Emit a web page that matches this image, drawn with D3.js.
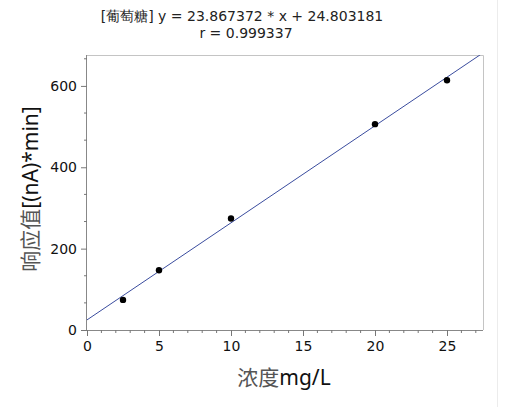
<!DOCTYPE html>
<html><head><meta charset="utf-8">
<script src="https://cdn.jsdelivr.net/npm/d3@7"></script>
<style>body{margin:0;background:#fff}svg{display:block}</style>
</head><body>
<script>
const concentrations = [2.5, 5, 10, 20, 25];
const responses = [74, 147, 274, 506, 614];
const slope = 23.867372, intercept = 24.803181, rValue = 0.999337;
const xTicks = [0, 5, 10, 15, 20, 25];
const yTicks = [0, 200, 400, 600];
const titleLine1 = "[葡萄糖] y = 23.867372 * x + 24.803181";
const titleLine2 = "r = 0.999337";

const W = 507, H = 407;
const svg = d3.select("body").append("svg").attr("width", W).attr("height", H);
const L = 87, R = 483, T = 55, B = 330;
const x = d3.scaleLinear().domain([0, 27.5]).range([L, R]);
const y = d3.scaleLinear().domain([0, 676]).range([B, T]);

// faint outer line
svg.append("line").attr("x1", 497.5).attr("x2", 497.5).attr("y1", 0).attr("y2", H)
  .attr("stroke", "#ececec").attr("stroke-width", 1);

// frame top/right
svg.append("path").attr("d", `M${L},${T+0.5}H${R+0.5}V${B}`)
  .attr("fill", "none").attr("stroke", "#c4c4c4");

// axes
const tickFont = "DejaVu Sans, Verdana, sans-serif";
const xAxis = d3.axisBottom(x).tickValues(xTicks).tickSize(6).tickPadding(5).tickFormat(d3.format("d"));
const gx = svg.append("g").attr("transform", `translate(0,${B})`).call(xAxis);
gx.selectAll(".tick line").attr("stroke", "#777");
gx.select(".domain").attr("stroke", "#888").attr("d", `M${L},0.5H${R}`);
gx.selectAll("text").attr("font-family", tickFont).attr("font-size", 14).attr("fill", "#111");
const xMinor = d3.range(0, 28, 1).filter(v => v % 5 !== 0);
gx.selectAll(".minor").data(xMinor).join("line").attr("class", "minor")
  .attr("x1", d => x(d)).attr("x2", d => x(d)).attr("y1", 0).attr("y2", 3).attr("stroke", "#777");

const yAxis = d3.axisLeft(y).tickValues(yTicks).tickSize(6).tickPadding(4).tickFormat(d3.format("d"));
const gy = svg.append("g").attr("transform", `translate(${L},0)`).call(yAxis);
gy.selectAll(".tick line").attr("stroke", "#777");
gy.select(".domain").attr("stroke", "#888").attr("d", `M-0.5,${T}V${B}`);
gy.selectAll("text").attr("font-family", tickFont).attr("font-size", 14).attr("fill", "#111");
const yMinor = [1, 2, 4, 5, 7, 8, 10].map(k => k * 200 / 3);
gy.selectAll(".minor").data(yMinor).join("line").attr("class", "minor")
  .attr("x1", -3).attr("x2", 0).attr("y1", d => y(d)).attr("y2", d => y(d)).attr("stroke", "#777");

// regression line (clipped)
svg.append("clipPath").attr("id", "clip").append("rect")
  .attr("x", L).attr("y", T).attr("width", R - L).attr("height", B - T);
svg.append("line").attr("clip-path", "url(#clip)")
  .attr("x1", x(0)).attr("y1", y(intercept))
  .attr("x2", x(27.5)).attr("y2", y(intercept + slope * 27.5))
  .attr("stroke", "#3a4c9e").attr("stroke-width", 1);

// points
svg.selectAll(".pt").data(concentrations).join("circle").attr("class", "pt")
  .attr("cx", d => x(d)).attr("cy", (d, i) => y(responses[i])).attr("r", 3.2).attr("fill", "#000");

// title
const tFont = "DejaVu Sans, sans-serif";
svg.append("text").attr("x", 242).attr("y", 21).attr("text-anchor", "middle")
  .attr("font-family", tFont).attr("font-size", 14).attr("fill", "#222").text(titleLine1);
svg.append("text").attr("x", 246).attr("y", 38).attr("text-anchor", "middle")
  .attr("font-family", tFont).attr("font-size", 14).attr("fill", "#222").text(titleLine2);

// x axis title
const latin = "Noto Sans, Open Sans, sans-serif";
const xt = svg.append("text").attr("x", 284).attr("y", 385).attr("text-anchor", "middle")
  .attr("font-size", 21).attr("font-family", "Noto Sans CJK SC, sans-serif");
xt.append("tspan").attr("fill", "#555").text("浓度");
xt.append("tspan").attr("fill", "#111").attr("font-family", latin).text("mg/L");

// y axis title
const yt = svg.append("text").attr("transform", `translate(38,189) rotate(-90)`)
  .attr("text-anchor", "middle").attr("font-size", 21).attr("font-family", "Noto Sans CJK SC, sans-serif");
yt.append("tspan").attr("fill", "#555").text("响应值");
yt.append("tspan").attr("fill", "#111").attr("font-family", latin).text("[(nA)*min]");
</script>
</body></html>
